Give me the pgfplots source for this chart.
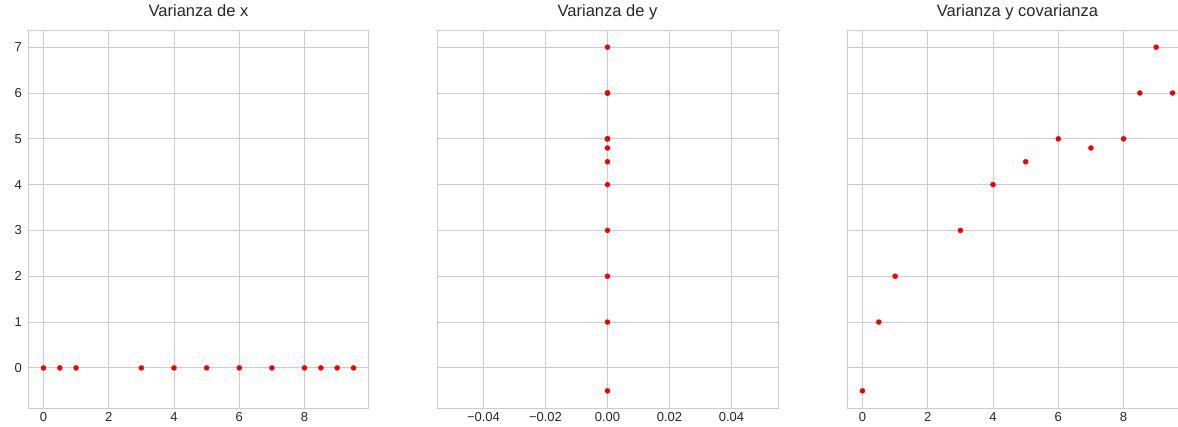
\documentclass[border=0pt]{standalone}
\usepackage{pgfplots}
\pgfplotsset{compat=1.18}
\usepackage{fontspec}
\setmainfont{Liberation Sans}

\definecolor{gridgray}{HTML}{CCCCCC}
\definecolor{labelgray}{HTML}{262626}
\definecolor{dotred}{HTML}{F00000}

\pgfplotsset{
  panel/.style={
    scale only axis, width=341pt, height=378pt,
    anchor=south west,
    ymin=-0.875, ymax=7.375,
    ytick={0,1,...,7},
    grid=major,
    major grid style={gridgray, line width=0.9pt},
    axis line style={gridgray, line width=1pt},
    major tick length=0pt,
    tick label style={font=\fontsize{13}{15}\selectfont, text=labelgray},
    xticklabel style={anchor=base, inner sep=0pt, yshift=-13pt},
    yticklabel style={anchor=east, inner sep=0pt, xshift=-6pt},
    /pgf/number format/assume math mode=true,
    title style={font=\fontsize{16.5}{18}\selectfont, text=labelgray,
      at={(0.5,1)}, anchor=base, inner sep=0pt, yshift=8pt},
    clip=false,
  },
  pts/.style={only marks, color=dotred, mark=*, mark size=2.6pt,
    mark options={fill=dotred, draw=dotred, line width=0.2pt}},
}

\begin{document}
\begin{tikzpicture}
\begin{axis}[panel, at={(28pt,18pt)}, title={Varianza de x},
  xmin=-0.475, xmax=9.975, xtick={0,2,4,6,8}]
  \addplot[pts] coordinates {(0,0) (0.5,0) (1,0) (3,0) (4,0) (5,0) (6,0) (7,0) (8,0) (8.5,0) (9,0) (9.5,0)};
\end{axis}

\begin{axis}[panel, at={(437pt,18pt)}, title={Varianza de y},
  xmin=-0.055, xmax=0.055, xtick={-0.04,-0.02,0,0.02,0.04},
  xticklabels={−0.04,−0.02,0.00,0.02,0.04}, yticklabels={}]
  \addplot[pts] coordinates {(0,-0.5) (0,1) (0,2) (0,3) (0,4) (0,4.5) (0,5) (0,4.8) (0,5) (0,6) (0,7) (0,6)};
\end{axis}

\begin{axis}[panel, at={(847pt,18pt)}, title={Varianza y covarianza},
  xmin=-0.475, xmax=9.975, xtick={0,2,4,6,8}, yticklabels={}]
  \addplot[pts] coordinates {(0,-0.5) (0.5,1) (1,2) (3,3) (4,4) (5,4.5) (6,5) (7,4.8) (8,5) (8.5,6) (9,7) (9.5,6)};
\end{axis}

\pgfresetboundingbox
\path[use as bounding box] (0,0) rectangle (1178pt,426pt);
\end{tikzpicture}
\end{document}
